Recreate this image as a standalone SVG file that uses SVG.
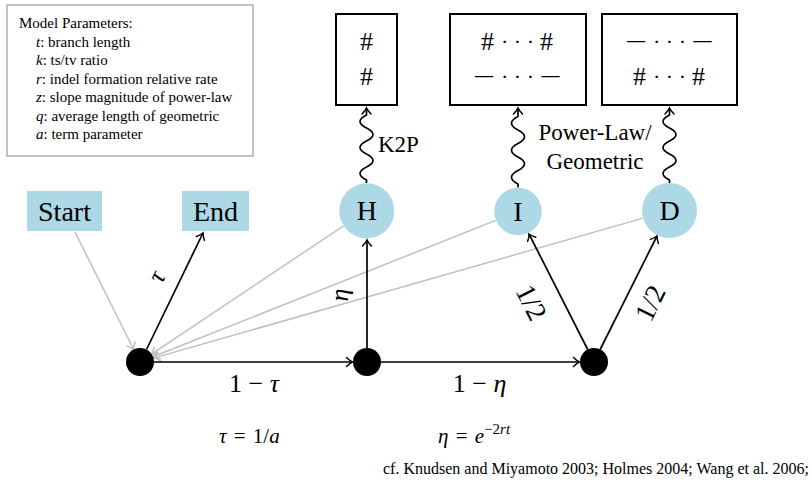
<svg xmlns="http://www.w3.org/2000/svg" width="812" height="482" viewBox="0 0 812 482">
<style>
text{font-family:"Liberation Serif","Times New Roman",serif;fill:#000}
.leg{font-size:15px}
.node{font-size:28px;text-anchor:middle}
.lbl{font-size:26px;text-anchor:middle}
.half{font-size:28px;text-anchor:middle}
.sm{font-size:23px}
.it{font-style:italic}
.cell{font-size:26px;text-anchor:middle}
.blk{stroke:#000;stroke-width:1.7;fill:none}
.gry{stroke:#bfbfbf;stroke-width:1.5;fill:none}
.box{fill:#fff;stroke:#000;stroke-width:2}
.lb{fill:#add8e6}
</style>
<defs>
<marker id="ah" markerUnits="userSpaceOnUse" markerWidth="14" markerHeight="14" refX="0" refY="0" orient="auto" overflow="visible">
<path d="M-6,-4.5 Q-2.5,-1 0,0 Q-2.5,1 -6,4.5" fill="none" stroke="#000" stroke-width="1.5" stroke-linecap="round"/>
</marker>
<marker id="ag" markerUnits="userSpaceOnUse" markerWidth="14" markerHeight="14" refX="0" refY="0" orient="auto" overflow="visible">
<path d="M-6,-4.5 Q-2.5,-1 0,0 Q-2.5,1 -6,4.5" fill="none" stroke="#bfbfbf" stroke-width="1.5" stroke-linecap="round"/>
</marker>
</defs>
<rect width="812" height="482" fill="#fff"/>

<g id="legend">
<rect x="7" y="5" width="246" height="151" fill="#fff" stroke="#b3b3b3" stroke-width="1.6"/>
<text class="leg" x="19" y="28">Model Parameters:</text>
<text class="leg" x="36" y="46.5"><tspan class="it">t</tspan>: branch length</text>
<text class="leg" x="36" y="65"><tspan class="it">k</tspan>: ts/tv ratio</text>
<text class="leg" x="36" y="83.5"><tspan class="it">r</tspan>: indel formation relative rate</text>
<text class="leg" x="36" y="102"><tspan class="it">z</tspan>: slope magnitude of power-law</text>
<text class="leg" x="36" y="120.5"><tspan class="it">q</tspan>: average length of geometric</text>
<text class="leg" x="36" y="139"><tspan class="it">a</tspan>: term parameter</text>
</g>

<g id="box-k2p">
<rect class="box" x="336" y="14" width="61" height="91"/>
<text class="cell" x="366.5" y="50">#</text>
<text class="cell" x="366.5" y="85">#</text>
</g>
<g id="box-ins">
<rect class="box" x="450" y="14" width="136" height="91"/>
<text class="cell" x="487.5" y="50">#</text>
<text class="cell" x="517.5" y="48.5" style="font-size:22px">· · ·</text>
<text class="cell" x="546.5" y="50">#</text>
<text class="cell" x="484" y="83" textLength="18" lengthAdjust="spacingAndGlyphs">—</text>
<text class="cell" x="517.5" y="83.5" style="font-size:22px">· · ·</text>
<text class="cell" x="550.5" y="83" textLength="18" lengthAdjust="spacingAndGlyphs">—</text>
</g>
<g id="box-del">
<rect class="box" x="602" y="14" width="135" height="91"/>
<text class="cell" x="636" y="48" textLength="18" lengthAdjust="spacingAndGlyphs">—</text>
<text class="cell" x="669.5" y="48.5" style="font-size:22px">· · ·</text>
<text class="cell" x="702.5" y="48" textLength="18" lengthAdjust="spacingAndGlyphs">—</text>
<text class="cell" x="639.5" y="85">#</text>
<text class="cell" x="669.5" y="83.5" style="font-size:22px">· · ·</text>
<text class="cell" x="698.5" y="85">#</text>
</g>

<g id="connectors">
<line class="gry" x1="75" y1="232" x2="133.7" y2="349.5" marker-end="url(#ag)"/>
<line class="gry" x1="343.6" y1="225.8" x2="151.6" y2="354.2" marker-end="url(#ag)"/>
<line class="gry" x1="495.7" y1="220.4" x2="153" y2="356.8" marker-end="url(#ag)"/>
<line class="gry" x1="643.1" y1="218.1" x2="153.5" y2="358.1" marker-end="url(#ag)"/>
<line class="blk" x1="154" y1="362" x2="352.5" y2="362" marker-end="url(#ah)"/>
<line class="blk" x1="381" y1="362" x2="579.5" y2="362" marker-end="url(#ah)"/>
<line class="blk" x1="146.5" y1="349.5" x2="203" y2="233" marker-end="url(#ah)"/>
<line class="blk" x1="367" y1="348" x2="367" y2="240" marker-end="url(#ah)"/>
<line class="blk" x1="587.7" y1="349.5" x2="529" y2="234" marker-end="url(#ah)"/>
<line class="blk" x1="600.2" y1="349.5" x2="657" y2="236" marker-end="url(#ah)"/>
<path class="blk" d="M366.5,183 L366.5,180 q-13,-6.5 0,-13 t0,-13 t0,-13 t0,-13 t0,-13 L366.5,108" marker-end="url(#ah)"/>
<path class="blk" d="M518,187.5 L518,184 q-13,-6.75 0,-13.5 t0,-13.5 t0,-13.5 t0,-13.5 t0,-13.5 L518,108" marker-end="url(#ah)"/>
<path class="blk" d="M669.5,183 L669.5,180 q-13,-6.5 0,-13 t0,-13 t0,-13 t0,-13 t0,-13 L669.5,108" marker-end="url(#ah)"/>
<text class="sm" x="378" y="152">K2P</text>
<text class="sm" x="595" y="140" text-anchor="middle">Power-Law/</text>
<text class="sm" x="595" y="169" text-anchor="middle">Geometric</text>
<text class="lbl" x="254" y="392">1 − <tspan class="it">τ</tspan></text>
<text class="lbl" x="479.5" y="392">1 − <tspan class="it">η</tspan></text>
<text class="lbl it" transform="translate(159,278) rotate(-64)" y="5.5">τ</text>
<text class="lbl it" transform="translate(345,295) rotate(-90)" y="3">η</text>
<text class="half" transform="translate(531.5,302.5) rotate(63)" y="9.5">1/2</text>
<text class="half" transform="translate(650,303) rotate(-64)" y="9.5">1/2</text>
</g>

<g id="start"><rect class="lb" x="27" y="191" width="75" height="40"/><text class="node" x="64.5" y="221">Start</text></g>
<g id="end"><rect class="lb" x="182" y="191" width="67" height="40"/><text class="node" x="215.5" y="221">End</text></g>
<g id="H"><circle class="lb" cx="366.8" cy="210.8" r="27.5"/><text class="node" x="366.8" y="220">H</text></g>
<g id="I"><circle class="lb" cx="518" cy="211.5" r="23.8"/><text class="node" x="518" y="220.5">I</text></g>
<g id="D"><circle class="lb" cx="669.5" cy="210.5" r="27.5"/><text class="node" x="669.5" y="220">D</text></g>
<g id="s1"><circle cx="140" cy="362" r="14" fill="#000"/></g>
<g id="s2"><circle cx="367" cy="362" r="14" fill="#000"/></g>
<g id="s3"><circle cx="594" cy="362" r="14" fill="#000"/></g>

<g id="notes">
<text x="219" y="443" style="font-size:21px;word-spacing:2px"><tspan class="it">τ</tspan> = 1/<tspan class="it">a</tspan></text>
<text x="438" y="443" style="font-size:21px;word-spacing:2px"><tspan class="it">η</tspan> = <tspan class="it">e</tspan><tspan dy="-9" style="font-size:15px">−2<tspan class="it">rt</tspan></tspan></text>
<text x="383" y="474" style="font-size:16px">cf. Knudsen and Miyamoto 2003; Holmes 2004; Wang et al. 2006;</text>
</g>
</svg>
